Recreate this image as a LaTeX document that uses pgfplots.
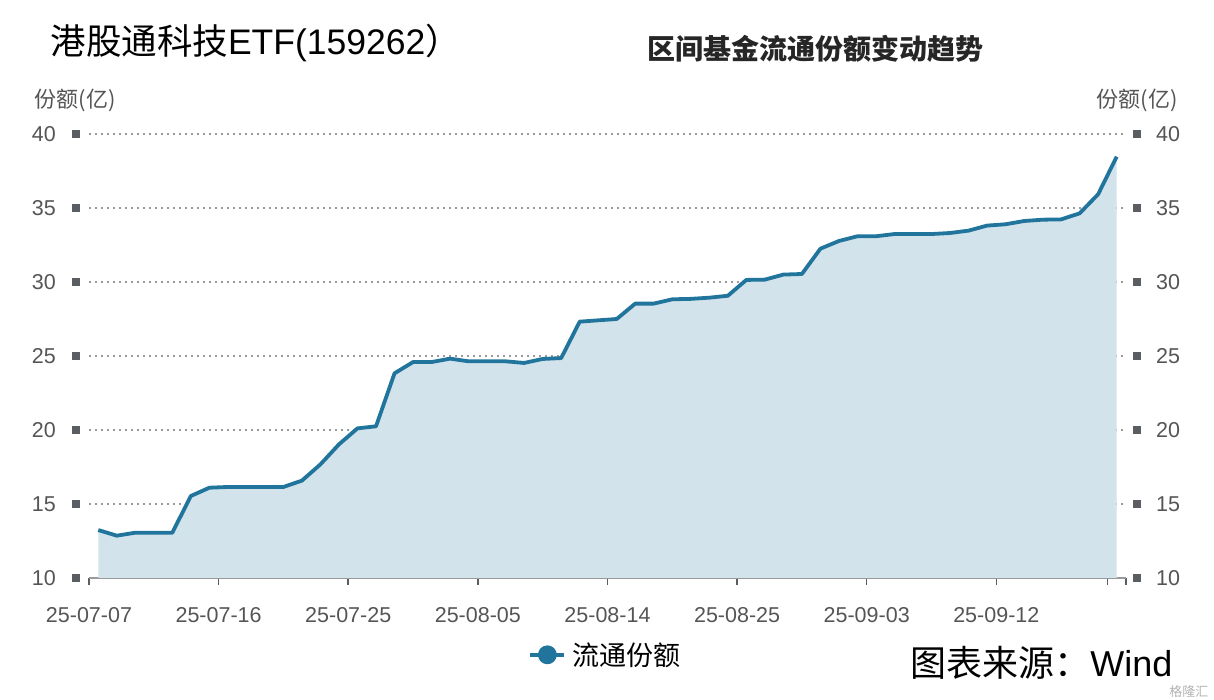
\documentclass[border=0pt]{standalone}
\usepackage{fontspec}
\setmainfont{Liberation Sans}
\newfontfamily\cjk{Noto Sans CJK SC}
\usepackage{pgfplots}
\usepackage{pgfplotstable}
\pgfplotsset{compat=1.18}

\definecolor{linec}{HTML}{21759C}
\definecolor{fillc}{HTML}{D3E3EC}
\definecolor{tickc}{HTML}{5A5D62}
\definecolor{labc}{HTML}{555555}
\definecolor{gridc}{HTML}{9A9A9A}

% share of the fund, 100 million units, one row per trading day
\pgfplotstableread{
i   v
0   13.24
1   12.86
2   13.06
3   13.06
4   13.06
5   15.54
6   16.10
7   16.15
8   16.15
9   16.15
10  16.15
11  16.58
12  17.68
13  19.03
14  20.11
15  20.25
16  23.83
17  24.59
18  24.59
19  24.82
20  24.64
21  24.64
22  24.64
23  24.53
24  24.80
25  24.86
26  27.32
27  27.41
28  27.50
29  28.54
30  28.54
31  28.83
32  28.86
33  28.94
34  29.07
35  30.14
36  30.16
37  30.50
38  30.54
39  32.25
40  32.77
41  33.09
42  33.09
43  33.24
44  33.24
45  33.24
46  33.31
47  33.47
48  33.81
49  33.90
50  34.12
51  34.21
52  34.23
53  34.64
54  35.93
55  38.47
}\shares

\newcommand{\sq}{\textcolor{tickc}{\rule{8pt}{8pt}}}

\begin{document}
\begin{tikzpicture}
\useasboundingbox (0,0) rectangle (1214pt,700pt);

\pgfplotsset{
  base/.style={
    at={(89pt,122pt)}, anchor=south west,
    scale only axis, width=1037pt, height=444pt,
    xmin=-0.5, xmax=55.5, ymin=10, ymax=40,
    ytick={10,15,...,40},
    y tick style={draw=none},
    /pgf/number format/assume math mode=true,
    ticklabel style={font=\fontsize{21.5}{25}\selectfont, text=labc},
  },
}

\begin{axis}[
  base,
  axis x line*=bottom, axis y line*=left,
  y axis line style={draw=none},
  x axis line style={draw=gridc, line width=2pt, -},
  xtick={-0.5,6.5,13.5,20.5,27.5,34.5,41.5,48.5,54.5,55.5},
  xticklabels={25-07-07,25-07-16,25-07-25,25-08-05,25-08-14,25-08-25,25-09-03,25-09-12,,},
  x tick style={draw=tickc, line width=1.5pt},
  xtick align=outside,
  major tick length=7pt,
  xticklabel style={inner sep=0pt, yshift=-22pt},
  yticklabel={\pgfmathprintnumber{\tick}\hspace{16pt}\raisebox{3.5pt}{\sq}},
  yticklabel style={anchor=east, inner sep=0pt, xshift=-9pt},
  ymajorgrids,
  grid style={draw=gridc, line width=1.5pt, dash pattern=on 1.5pt off 4.5pt},
  legend style={at={(0.498,-0.173)}, anchor=center, draw=none, fill=none,
    font=\cjk\fontsize{27}{30}\selectfont, inner sep=0pt},
  legend image code/.code={
    \draw[linec, line width=3.5pt] (0pt,0pt) -- (34pt,0pt);
    \fill[linec] (17pt,0pt) circle (7.5pt);
  },
]
\addplot[fill=fillc, draw=none, forget plot] table[x=i, y=v] {\shares} \closedcycle;
\addplot[linec, line width=3.8pt, line join=round] table[x=i, y=v] {\shares};
\addlegendentry{\hspace{4pt}流通份额}
\end{axis}

\begin{axis}[
  base,
  hide x axis,
  axis y line*=right,
  y axis line style={draw=none},
  yticklabel={\raisebox{3.5pt}{\sq}\hspace{15pt}\pgfmathprintnumber{\tick}},
  yticklabel style={anchor=west, inner sep=0pt, xshift=7pt},
]
\end{axis}

\node[font=\fontsize{35.5}{40}\selectfont, anchor=west] at (47pt,657pt)
  {{\cjk 港股通科技}ETF(159262{\cjk ）}};
\node[font=\cjk\bfseries\fontsize{28}{32}\selectfont, text=black!85, anchor=center] at (815pt,651pt)
  {区间基金流通份额变动趋势};
\node[font=\cjk\fontsize{22}{26}\selectfont, text=labc] at (75pt,600pt) {份额(亿)};
\node[font=\cjk\fontsize{22}{26}\selectfont, text=labc] at (1137pt,600pt) {份额(亿)};
\node[font=\fontsize{36}{40}\selectfont, anchor=east] at (1176pt,37pt)
  {{\cjk 图表来源：}Wind};
\node[font=\cjk\fontsize{13}{15}\selectfont, text=black!30, anchor=east] at (1212pt,8pt)
  {格隆汇};
\end{tikzpicture}
\end{document}
